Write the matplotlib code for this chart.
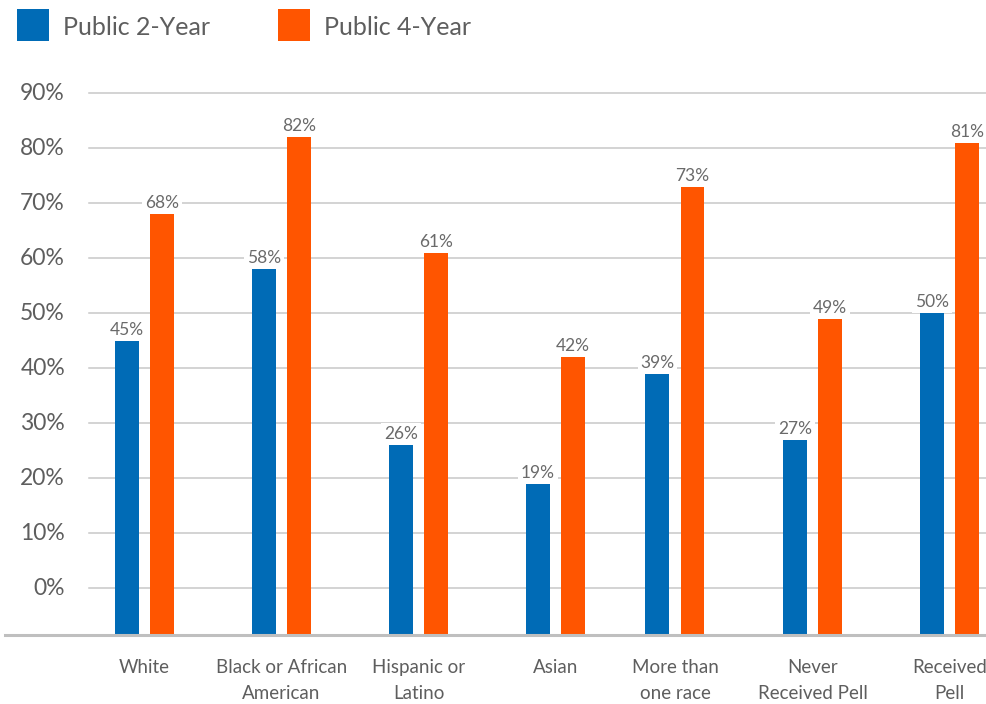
import numpy as np
import matplotlib
matplotlib.use("Agg")
import matplotlib.pyplot as plt
from matplotlib.patches import Rectangle

# data
categories = ["White", "Black or African\nAmerican", "Hispanic or\nLatino", "Asian",
              "More than\none race", "Never\nReceived Pell", "Received\nPell"]
public_2yr = [45, 58, 26, 19, 39, 27, 50]
public_4yr = [68, 82, 61, 42, 73, 49, 81]
series_names = ["Public 2-Year", "Public 4-Year"]
yticks = list(range(0, 100, 10))

# layout / style
W, H = 987, 704
BLUE = "#006BB6"
ORANGE = "#FF5500"
TXT = "#5E5E5E"
group_x = [0, 1, 2, 3, 3.872, 4.876, 5.876]
bar_w = 0.175
off = 0.128
ybot, ytop = -8.5, 92

plt.rcParams["font.family"] = ["Lato", "DejaVu Sans"]

fig = plt.figure(figsize=(W / 100, H / 100), dpi=100)


def fx(px):
    return px / W


def fy(py):
    return 1 - py / H


ax_left, ax_right = 5, 987
ax_top = 588.3 - ytop * 5.5
ax_bottom = 635
ax = fig.add_axes([fx(ax_left), fy(ax_bottom), fx(ax_right - ax_left), (ax_bottom - ax_top) / H])
ax.set_xlim((ax_left - 144.5) / 137, (ax_right - 144.5) / 137)
ax.set_ylim(ybot, ytop)
for s in ["top", "right", "left"]:
    ax.spines[s].set_visible(False)
ax.spines["bottom"].set_color("#BFBFBF")
ax.spines["bottom"].set_linewidth(2.2)
ax.set_xticks([])
ax.set_yticks([])

# gridlines and y labels
grid_start = (89 - ax_left) / (ax_right - ax_left)
for t in yticks:
    ax.axhline(t, xmin=grid_start, xmax=1, color="#C8C8C8", lw=1.1, zorder=0)
    ax.text((65 - ax_left) / (ax_right - ax_left), t, f"{t}%", transform=ax.get_yaxis_transform(),
            ha="right", va="center", fontsize=16.5, color=TXT)

x = np.array(group_x)
for vals, dx, col in [(public_2yr, -off, BLUE), (public_4yr, off, ORANGE)]:
    heights = np.array(vals) - ybot
    ax.bar(x + dx, heights, bottom=ybot, width=bar_w, color=col, zorder=2)
    for xi, v in zip(x + dx, vals):
        ax.annotate(f"{v}%", (xi, v), xytext=(0, 4.5), textcoords="offset points",
                    ha="center", va="baseline", fontsize=12.5, color="#6A6A6A", zorder=3,
                    bbox=dict(boxstyle="square,pad=0.15", fc="white", ec="none"))

# category labels
for xi, lab in zip(x, categories):
    ax.annotate(lab, (xi, 0), xycoords=("data", "axes fraction"), xytext=(0, -17),
                textcoords="offset points", ha="center", va="top", fontsize=13.5,
                color=TXT, linespacing=1.65)

# legend
for lx, col, name in [(17, BLUE, series_names[0]), (278, ORANGE, series_names[1])]:
    fig.add_artist(Rectangle((fx(lx), fy(41)), fx(32), 32 / H, transform=fig.transFigure,
                             color=col, lw=0))
    fig.text(fx(lx + 46), fy(35), name, ha="left", va="baseline", fontsize=18, color=TXT)

fig.savefig("out.png", dpi=100)
